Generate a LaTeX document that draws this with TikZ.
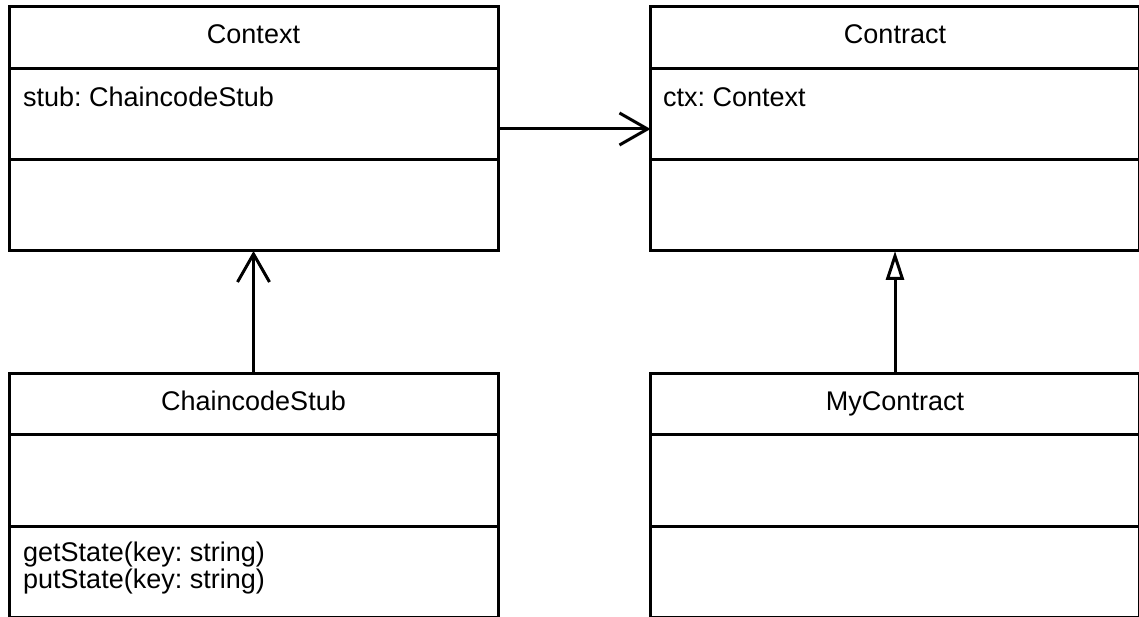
\documentclass[tikz,border=0pt]{standalone}
\usepackage{fontspec}
\setmainfont{Liberation Sans}
\usetikzlibrary{arrows.meta}
\frenchspacing
\begin{document}
\begin{tikzpicture}[x=1pt,y=-1pt,
  umlbox/.style={draw=black, line width=3pt, rectangle, inner sep=0pt, outer sep=0pt,
    minimum width=489pt, minimum height=244pt},
  divider/.style={draw=black, line width=3pt},
  label/.style={inner sep=0pt, font=\fontsize{27}{26}\selectfont, text=black},
  assoc/.style={draw=black, line width=3pt, -{Straight Barb[length=28pt, width=32pt, line width=3pt]}},
  inherit/.style={draw=black, line width=3pt, -{Triangle[open, fill=white, length=29pt, width=18pt, line width=3pt]}}
]
\useasboundingbox (0,0) rectangle (1139,617);

% class boxes
\node[umlbox] (context) at (253.5,129) {};
\node[umlbox] (contract) at (895,129) {};
\node[umlbox] (stub) at (253.5,495.5) {};
\node[umlbox] (mycontract) at (895,495.5) {};

% compartment separators
\foreach \b in {context, contract} {
  \draw[divider] (\b.west |- 0,69) -- (\b.east |- 0,69);
  \draw[divider] (\b.west |- 0,160) -- (\b.east |- 0,160);
}
\foreach \b in {stub, mycontract} {
  \draw[divider] (\b.west |- 0,434) -- (\b.east |- 0,434);
  \draw[divider] (\b.west |- 0,526) -- (\b.east |- 0,526);
}

% class names
\node[label, anchor=base] (contextname) at (253.5,44) {Context};
\node[label, anchor=base] (contractname) at (895,44) {Contract};
\node[label, anchor=base] (stubname) at (253.5,410) {ChaincodeStub};
\node[label, anchor=base] (mycontractname) at (895,410) {MyContract};

% attributes
\node[label, anchor=base west] (stubattr) at (23,107) {stub: ChaincodeStub};
\node[label, anchor=base west] (ctxattr) at (663,107) {ctx: Context};

% operations
\node[label, anchor=base west] (getop) at (23,561) {getState(key: string)};
\node[label, anchor=base west] (putop) at (23,588) {putState(key: string)};

% relations
\draw[assoc] (context.east) -- (contract.west);
\draw[assoc] (stub.north) -- (context.south);
\draw[inherit] (mycontract.north) -- (contract.south);
\end{tikzpicture}
\end{document}
